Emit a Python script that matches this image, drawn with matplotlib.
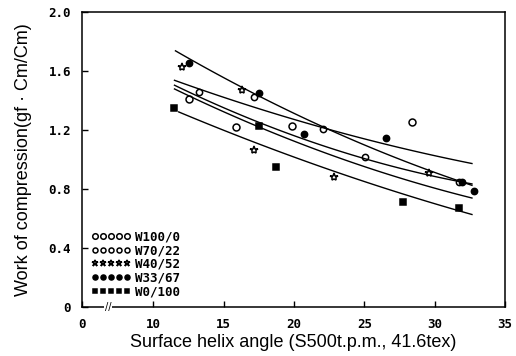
import numpy as np
import matplotlib
matplotlib.use("Agg")
import matplotlib.pyplot as plt

# x axis is broken between 0 and 10: "0" sits at this position
X_ZERO = 4.93

# measured points
w100_x = [12.5, 15.86, 19.86, 28.41]
w100_y = [1.408, 1.218, 1.224, 1.254]
w70_x = [13.21, 17.14, 22.07, 25.07, 31.71]
w70_y = [1.456, 1.422, 1.204, 1.020, 0.844]
w40_x = [12.05, 16.29, 17.14, 22.86, 29.57]
w40_y = [1.628, 1.469, 1.061, 0.878, 0.905]
w33_x = [12.5, 17.5, 20.71, 26.5, 31.93, 32.79]
w33_y = [1.653, 1.449, 1.170, 1.143, 0.844, 0.789]
w0_x = [11.43, 17.5, 18.71, 27.71, 31.71]
w0_y = [1.347, 1.224, 0.952, 0.714, 0.673]

# regression curves
c33_x = [11.57, 18.0, 22.07, 29.57, 32.64]
c33_y = [1.728, 1.435, 1.204, 0.912, 0.837]
c100_x = [11.5, 20.3, 24.8, 32.64]
c100_y = [1.537, 1.265, 1.143, 0.973]
c70_x = [11.5, 17.64, 25.0, 32.64]
c70_y = [1.510, 1.231, 1.020, 0.830]
c40_x = [11.5, 17.64, 25.5, 32.64]
c40_y = [1.483, 1.204, 0.946, 0.735]
c0_x = [11.8, 17.64, 25.5, 32.64]
c0_y = [1.333, 1.075, 0.857, 0.619]

x_ticks = [X_ZERO, 10, 15, 20, 25, 30, 35]
x_labels = ["0", "10", "15", "20", "25", "30", "35"]
y_ticks = [0, 0.4, 0.8, 1.2, 1.6, 2.0]
y_labels = ["0", "0.4", "0.8", "1.2", "1.6", "2.0"]

fig = plt.figure(figsize=(5.16, 3.56), dpi=100)
ax = fig.add_axes([0.159, 0.138, 0.820, 0.828])

series = [
    (w100_x, w100_y, "o", "white", 5, "W100/0"),
    (w70_x, w70_y, "o", "white", 4.5, "W70/22"),
    (w40_x, w40_y, "*", "white", 6, "W40/52"),
    (w33_x, w33_y, "o", "black", 4.5, "W33/67"),
    (w0_x, w0_y, "s", "black", 4, "W0/100"),
]
for sx, sy, m, fc, ms, lab in series:
    ax.plot(sx, sy, linestyle="none", marker=m, mfc=fc, mec="black",
            mew=1.1, ms=ms, label=lab)

for cx, cy in [(c33_x, c33_y), (c100_x, c100_y), (c70_x, c70_y),
               (c40_x, c40_y), (c0_x, c0_y)]:
    p = np.polyfit(cx, cy, 2)
    xx = np.linspace(cx[0], cx[-1], 60)
    ax.plot(xx, np.polyval(p, xx), color="black", lw=1)

ax.set_xlim(X_ZERO, 35)
ax.set_ylim(0, 2.0)
ax.set_xticks(x_ticks)
ax.set_xticklabels(x_labels, fontweight="bold", family="DejaVu Sans Mono", fontsize=9)
ax.set_yticks(y_ticks)
ax.set_yticklabels(y_labels, fontweight="bold", family="DejaVu Sans Mono", fontsize=9)
ax.tick_params(direction="in", length=4, width=1, pad=8)

for s in ax.spines.values():
    s.set_linewidth(1.1)

# axis break mark
ax.text(6.8, 0, "//", ha="center", va="center", fontsize=7, clip_on=False,
        bbox=dict(fc="white", ec="none", pad=0.5))

ax.set_xlabel("Surface helix angle (S500t.p.m., 41.6tex)",
              family="Liberation Sans", fontsize=13, labelpad=2)
ax.set_ylabel("Work of compression(gf \u00b7 Cm/Cm)",
              family="Liberation Sans", fontsize=13, labelpad=12)

ax.legend(loc="lower left", numpoints=5, frameon=False, handlelength=3.2,
          handletextpad=0.3, labelspacing=0.05, borderaxespad=0.3,
          prop=dict(family="DejaVu Sans Mono", weight="bold", size=9),
          markerscale=0.8)

fig.savefig("out.png", dpi=100)
